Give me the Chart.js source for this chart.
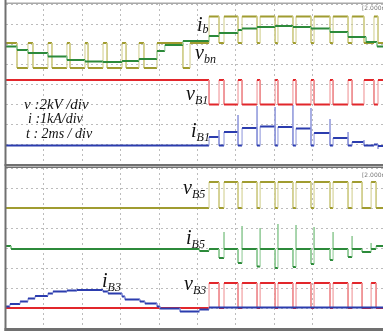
<!DOCTYPE html>
<html>
<head>
<meta charset="utf-8">
<script src="https://cdn.jsdelivr.net/npm/chart.js@4.4.1/dist/chart.umd.min.js"></script>
<style>
body{margin:0;background:#fff;overflow:hidden}
#wrap{position:relative;width:383px;height:331px;overflow:hidden}
canvas{position:absolute;left:0}
.lbl{position:absolute;font:italic 20px "Liberation Serif",serif;line-height:1;white-space:nowrap;color:#111}
.lbl sub{font-size:12px;vertical-align:baseline;position:relative;top:4px}
.note{position:absolute;font-family:"Liberation Serif",serif;font-style:italic;line-height:1;white-space:nowrap;color:#111}
.tiny{position:absolute;font:6px "DejaVu Sans",sans-serif;color:#777;white-space:nowrap;line-height:1}
</style>
</head>
<body>
<div id="wrap">
  <canvas id="topPanel" width="383" height="166" style="top:0"></canvas>
  <canvas id="botPanel" width="383" height="165" style="top:166px"></canvas>

  <div class="lbl" style="left:197px;top:14px">i<sub style="top:2px">b</sub></div>
  <div class="lbl" style="left:195px;top:42px">v<sub>bn</sub></div>
  <div class="lbl" style="left:186px;top:83px">v<sub>B1</sub></div>
  <div class="lbl" style="left:191px;top:120px">i<sub>B1</sub></div>
  <div class="note" style="left:24px;top:97px;font-size:15px">v :2kV /div</div>
  <div class="note" style="left:28px;top:112px;font-size:14px">i :1kA/div</div>
  <div class="note" style="left:26px;top:127px;font-size:14px">t : 2ms / div</div>
  <div class="tiny" style="left:362px;top:5px">[2.000ms/div]</div>

  <div class="lbl" style="left:183px;top:177px">v<sub>B5</sub></div>
  <div class="lbl" style="left:186px;top:227px">i<sub>B5</sub></div>
  <div class="lbl" style="left:184px;top:273px">v<sub>B3</sub></div>
  <div class="lbl" style="left:102px;top:270px">i<sub>B3</sub></div>
  <div class="tiny" style="left:362px;top:172px">[2.000ms/div]</div>
</div>
<script>
// time in ms (2 ms/div), values in screen divisions from panel centre
const T_END = 19.66;

// ---- top panel ----
const vbnTimes = [0.60, 1.17, 1.43, 2.21, 2.42, 3.20, 3.36, 4.14, 4.30, 5.08, 5.29, 6.07, 6.28, 6.95, 7.21, 7.89, 9.24, 9.61,
    10.60, 11.12, 11.38, 12.11, 12.32, 13.10, 13.26, 14.04, 14.19, 14.97, 15.13, 15.91, 16.07, 16.90, 17.06, 17.84, 18.05, 18.67, 19.19, 19.40];
const vbnLevels = [2.05, 0.8, 2.05, 0.8, 2.05, 0.8, 2.05, 0.8, 2.05, 0.8, 2.05, 0.8, 2.05, 0.8, 2.05, 0.8, 2.05, 0.8, 2.05,
    3.38, 2.05, 3.38, 2.05, 3.38, 2.05, 3.38, 2.05, 3.38, 2.05, 3.38, 2.05, 3.38, 2.05, 3.38, 2.05, 3.38, 2.05, 3.38, 2.05];

const ibTimes = [0.60, 1.17, 2.21, 3.20, 4.14, 5.08, 6.07, 6.95, 7.89, 8.30, 9.24, 10.60, 11.12, 12.11, 12.32, 13.10, 14.04, 14.97, 15.91, 16.90, 17.84, 18.78, 19.35];
const ibLevels = [1.88, 1.70, 1.55, 1.38, 1.20, 1.13, 1.10, 1.15, 1.25, 1.65, 1.95, 2.15, 2.40, 2.55, 2.70, 2.78, 2.85, 2.90, 2.85, 2.78, 2.60, 2.35, 2.10, 1.88];

const vB1Times = [10.60, 11.12, 11.38, 12.11, 12.32, 13.10, 13.26, 14.04, 14.19, 14.97, 15.13, 15.91, 16.07, 16.90, 17.06, 17.84, 18.05, 18.67, 19.19, 19.40];
const vB1Levels = [0.2, -1.02, 0.2, -1.02, 0.2, -1.02, 0.2, -1.02, 0.2, -1.02, 0.2, -1.02, 0.2, -1.02, 0.2, -1.02, 0.2, -1.02, 0.2, -1.02, 0.2];

// repeated times = spike (jump up, then straight back down)
const iB1Times = [10.60, 11.12, 11.12, 11.38, 12.11, 12.11, 12.32, 13.10, 13.10, 13.26, 14.04, 14.04, 14.19, 14.97, 14.97, 15.13,
    15.91, 15.91, 16.07, 16.90, 16.90, 17.06, 17.84, 17.84, 18.05, 18.67, 18.67, 19.19, 19.40, 19.40];
const iB1Levels = [-3.08, -2.65, -2.3, -3.08, -2.4, -1.55, -3.08, -2.2, -1.1, -3.08, -2.12, -1.15, -3.08, -2.15, -1.05, -3.08,
    -2.22, -1.2, -3.08, -2.45, -1.75, -3.08, -2.7, -2.4, -3.08, -2.9, -2.8, -3.08, -3.02, -3.25, -3.1];

// ---- bottom panel ----
const vB5Times = [10.60, 11.12, 11.38, 12.11, 12.32, 13.10, 13.26, 14.04, 14.19, 14.97, 15.13, 15.91, 16.07, 16.90, 17.06, 17.84, 18.05, 18.57, 19.04, 19.30];
const vB5Levels = [2.0, 3.3, 2.0, 3.3, 2.0, 3.3, 2.0, 3.3, 2.0, 3.3, 2.0, 3.3, 2.0, 3.3, 2.0, 3.3, 2.0, 3.3, 2.0, 3.3, 2.0];

const iB5Times = [0.29, 10.10, 10.60, 11.12, 11.38, 11.38, 12.11, 12.32, 12.32, 13.10, 13.26, 13.26, 14.04, 14.19, 14.19, 14.97,
    15.13, 15.13, 15.91, 16.07, 16.07, 16.90, 17.06, 17.06, 17.84, 18.05, 18.05, 18.57, 19.04, 19.04, 19.30];
const iB5Levels = [0.1, -0.05, -0.15, -0.05, -0.5, 0.8, -0.05, -0.75, 1.1, -0.05, -0.93, 1.0, -0.05, -1.0, 1.2, -0.05,
    -0.95, 1.15, -0.05, -0.8, 1.05, -0.05, -0.6, 0.8, -0.05, -0.45, 0.6, -0.05, -0.2, 0.25, -0.05, 0.1];

const vB3Times = [10.60, 11.12, 11.38, 12.11, 12.32, 13.10, 13.26, 14.04, 14.19, 14.97, 15.13, 15.91, 16.07, 16.90, 17.06, 17.84, 18.05, 18.57, 19.04, 19.30];
const vB3Levels = [-3.0, -1.75, -3.0, -1.75, -3.0, -1.75, -3.0, -1.75, -3.0, -1.75, -3.0, -1.75, -3.0, -1.75, -3.0, -1.75, -3.0, -1.75, -3.0, -1.75, -3.0];

const iB3Times = [0.23, 0.76, 1.17, 1.54, 2.21, 2.47, 3.20, 3.72, 5.08, 5.34, 6.07, 6.22, 7.00, 7.26, 7.89, 8.05, 9.09, 10.10, 10.60];
const iB3Levels = [-2.93, -2.8, -2.68, -2.52, -2.4, -2.27, -2.18, -2.13, -2.1, -2.18, -2.27, -2.43, -2.57, -2.68, -2.77, -2.93, -3.02, -3.18, -3.08, -2.98];

// turn transition lists into points of a step trace
function steps(times, levels) {
    let pts = [{ x: 0, y: levels[0] }];
    times.forEach((t, i) => {
        pts.push({ x: t, y: levels[i] });
        pts.push({ x: t, y: levels[i + 1] });
    });
    pts.push({ x: T_END, y: levels[levels.length - 1] });
    return pts;
}

function trace(pts, color, pale) {
    return {
        data: pts,
        borderColor: color,
        borderWidth: 2,
        pointRadius: 0,
        tension: 0,
        segment: {
            borderColor: c => c.p0.parsed.x === c.p1.parsed.x ? pale : color,
            borderWidth: c => c.p0.parsed.x === c.p1.parsed.x ? 1 : 2
        }
    };
}

// panel frame drawn round the chart area
const framePlugin = {
    id: 'frame',
    afterDraw(chart, args, opts) {
        const { ctx, chartArea: a } = chart;
        ctx.save();
        opts.edges.forEach(e => {
            ctx.strokeStyle = e.color;
            ctx.lineWidth = e.width;
            ctx.beginPath();
            if (e.side === 'top') { ctx.moveTo(a.left, a.top - e.width / 2); ctx.lineTo(a.right, a.top - e.width / 2); }
            if (e.side === 'bottom') { ctx.moveTo(a.left - 1, a.bottom + e.width / 2); ctx.lineTo(a.right, a.bottom + e.width / 2); }
            if (e.side === 'left') { ctx.moveTo(a.left, 0); ctx.lineTo(a.left, chart.height); }
            ctx.stroke();
        });
        ctx.restore();
    }
};

function makePanel(id, datasets, padding, edges) {
    const axisGrid = { color: '#bcbcbc', lineWidth: 1, drawTicks: false };
    return new Chart(document.getElementById(id), {
        type: 'line',
        data: { datasets: datasets },
        options: {
            responsive: false,
            animation: false,
            events: [],
            layout: { padding: padding },
            plugins: { legend: { display: false }, tooltip: { enabled: false }, frame: { edges: edges } },
            scales: {
                x: { type: 'linear', min: 0, max: T_END, ticks: { display: false, stepSize: 2 },
                     grid: axisGrid, border: { display: false, dash: [2, 3] } },
                y: { min: -4, max: 4, ticks: { display: false, stepSize: 1 },
                     grid: axisGrid, border: { display: false, dash: [2, 3] } }
            }
        },
        plugins: [framePlugin]
    });
}

const GREEN = ['#2c8a3a', '#8cc892'];
const OLIVE = ['#a09c30', '#cfcc88'];
const RED = ['#e2262b', '#ee8c8f'];
const BLUE = ['#2b3cae', '#8c94da'];

makePanel('topPanel', [
    trace(steps(ibTimes, ibLevels), ...GREEN),
    trace(steps(vbnTimes, vbnLevels), ...OLIVE),
    trace(steps(vB1Times, vB1Levels), ...RED),
    trace(steps(iB1Times, iB1Levels), ...BLUE)
], { left: 5.5, top: 4, right: 0, bottom: 2 }, [
    { side: 'top', color: '#a8a8a8', width: 1.5 },
    { side: 'left', color: '#707070', width: 2 },
    { side: 'bottom', color: '#707070', width: 2 }
]);

makePanel('botPanel', [
    trace(steps(iB3Times, iB3Levels), ...BLUE),
    trace(steps(vB3Times, vB3Levels), ...RED),
    trace(steps(iB5Times, iB5Levels), ...GREEN),
    trace(steps(vB5Times, vB5Levels), ...OLIVE)
], { left: 5.5, top: 2, right: 0, bottom: 3 }, [
    { side: 'top', color: '#707070', width: 1.5 },
    { side: 'left', color: '#707070', width: 2 },
    { side: 'bottom', color: '#707070', width: 3 }
]);
</script>
</body>
</html>
